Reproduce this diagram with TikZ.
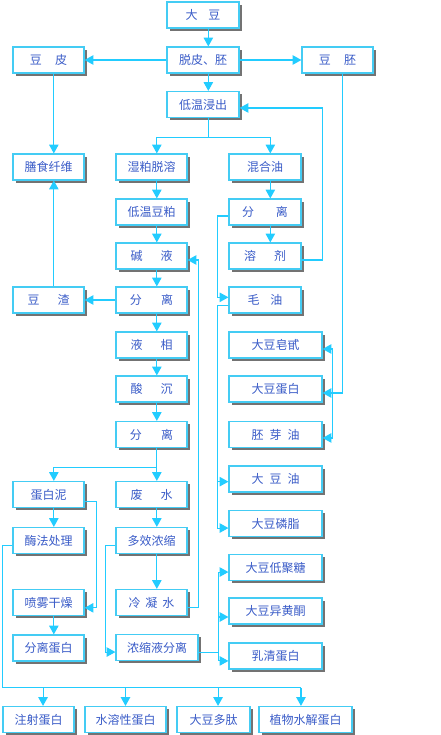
\documentclass[tikz,border=0pt]{standalone}
\usepackage{fontspec}
\usepackage{xcolor}
\usepackage{tikz}
\usetikzlibrary{arrows.meta,shadows}
\newfontfamily\cjk{Noto Sans CJK SC}
\definecolor{linecyan}{HTML}{22CCFF}
\definecolor{boxcyan}{HTML}{44CCF4}
\definecolor{txtblue}{HTML}{3A5CC8}

\begin{document}
\begin{tikzpicture}[x=0.75pt,y=-0.75pt,>={Triangle[length=6.5pt,width=7pt]},
  box/.style={draw=boxcyan,line width=0.9pt,fill=white,text=txtblue,inner sep=0pt,
    minimum width=53.25pt,minimum height=19.5pt,font=\cjk\fontsize{9}{11}\selectfont,
    drop shadow={shadow xshift=2.2pt,shadow yshift=-2.2pt,fill=black!55,opacity=1}},
  wbox/.style={box,minimum width=69.75pt},
  link/.style={draw=linecyan,line width=0.8pt}]
  \useasboundingbox[fill=white] (0,0) rectangle (440,735);
  % top row
  \node[box,minimum width=54pt] (dadou) at (203,15) {大\hspace{0.9em}豆};
  \node[box,minimum width=54pt] (tuopi) at (203,60) {脱皮、胚};
  \node[box] (doupi) at (48.5,60) {豆\hspace{1.1em}皮};
  \node[box] (doupei) at (337.5,60) {豆\hspace{1.1em}胚};
  \node[box,minimum width=54pt] (jinchu) at (203,104.5) {低温浸出};
  % left and middle columns
  \node[box] (shanshi) at (48.5,167) {膳食纤维};
  \node[box] (shipo) at (151.5,167) {湿粕脱溶};
  \node[box] (doupo) at (151.5,212) {低温豆粕};
  \node[box] (jianye) at (151.5,256) {碱\hspace{1.5em}液};
  \node[box] (douzha) at (48.5,300) {豆\hspace{1.5em}渣};
  \node[box] (fenliB) at (151.5,300) {分\hspace{1.6em}离};
  \node[box] (yexiang) at (151.5,345) {液\hspace{1.5em}相};
  \node[box] (suanchen) at (151.5,389) {酸\hspace{1.5em}沉};
  \node[box] (fenliD) at (151.5,434.5) {分\hspace{1.6em}离};
  \node[box] (danbaini) at (48.5,494.5) {蛋白泥};
  \node[box] (feishui) at (151.5,494.5) {废\hspace{1.5em}水};
  \node[box] (meifa) at (48.5,540.5) {酶法处理};
  \node[box] (duoxiao) at (151.5,540.5) {多效浓缩};
  \node[box] (penwu) at (48.5,602.5) {喷雾干燥};
  \node[box] (lengning) at (151.5,602.5) {冷\hspace{0.4em}凝\hspace{0.4em}水};
  \node[box] (fenlidb) at (48.5,648) {分离蛋白};
  \node[box,minimum width=61.5pt] (nongsuo) at (157,647.5) {浓缩液分离};
  % right column
  \node[box,minimum width=54pt] (hunhe) at (265,167) {混合油};
  \node[box,minimum width=54pt] (fenliC) at (265,212) {分\hspace{1.8em}离};
  \node[box,minimum width=54pt] (rongji) at (265,256) {溶\hspace{1.5em}剂};
  \node[box,minimum width=54pt] (maoyou) at (265,300) {毛\hspace{0.9em}油};
  \node[wbox] (zaogan) at (275.5,345) {大豆皂甙};
  \node[wbox] (danbai) at (275.5,389) {大豆蛋白};
  \node[wbox] (peiya) at (275.5,434.5) {胚\hspace{0.5em}芽\hspace{0.5em}油};
  \node[wbox] (dadouyou) at (275.5,479) {大\hspace{0.5em}豆\hspace{0.5em}油};
  \node[wbox] (linzhi) at (275.5,523.5) {大豆磷脂};
  \node[wbox] (juliao) at (275.5,567.5) {大豆低聚糖};
  \node[wbox] (yihuang) at (275.5,611) {大豆异黄酮};
  \node[wbox] (ruqing) at (275.5,656) {乳清蛋白};
  % bottom row
  \node[box] (zhushe) at (38.5,719.5) {注射蛋白};
  \node[box,minimum width=60.75pt] (shuirong) at (125.5,719.5) {水溶性蛋白};
  \node[box,minimum width=54.75pt] (duotai) at (213.5,719.5) {大豆多肽};
  \node[wbox] (zhiwu) at (305.5,719.5) {植物水解蛋白};

  % straight connectors
  \foreach \a/\b in {dadou/tuopi,tuopi/jinchu,doupi/shanshi,shipo/doupo,doupo/jianye,
      jianye/fenliB,fenliB/yexiang,yexiang/suanchen,suanchen/fenliD,hunhe/fenliC,
      fenliC/rongji,danbaini/meifa,penwu/fenlidb,feishui/duoxiao,duoxiao/lengning}
    \draw[link,->] ([xshift=4pt]\a.south) -- ([xshift=4pt]\b.north);
  \draw[link,->] ([xshift=4pt]douzha.north) -- ([xshift=4pt]shanshi.south);
  \draw[link,->] (tuopi.west) -- (doupi.east);
  \draw[link,->] (tuopi.east) -- (doupei.west);
  \draw[link,->] (fenliB.west) -- (douzha.east);
  % branches
  \draw[link,->] ([xshift=4pt]jinchu.south) -- ++(0,19) -| ([xshift=4pt]shipo.north);
  \draw[link,->] ([xshift=4pt]jinchu.south) -- ++(0,19) -| ([xshift=4pt]hunhe.north);
  \draw[link,->] ([xshift=4pt]fenliD.south) -- ++(0,19) -| ([xshift=4pt]danbaini.north);
  \draw[link,->] ([xshift=4pt]fenliD.south) -- ++(0,19) -| ([xshift=4pt]feishui.north);
  % returns and side lines
  \draw[link,->] ([yshift=-3pt]rongji.east) -- ++(21,0) |- ([yshift=-2.6pt]jinchu.east);
  \draw[link,->] ([xshift=4pt]doupei.south) |- ([yshift=-3pt]danbai.east);
  \draw[link,<->] ([yshift=-3pt]zaogan.east) -- ++(10,0) |- ([yshift=-2.6pt]peiya.east);
  \draw[link,->] ([yshift=-3pt]fenliC.west) -- ++(-11,0) |- ([yshift=2pt]maoyou.west);
  \draw[link,->] ([yshift=-4pt]maoyou.west) -- ++(-11,0) |- ([yshift=-2pt]dadouyou.west);
  \draw[link,->] ([yshift=-4pt]maoyou.west) -- ++(-11,0) |- ([yshift=-3.4pt]linzhi.west);
  \draw[link,->] ([yshift=-5pt]danbaini.east) -- ++(12,0) |- ([yshift=-4pt]penwu.east);
  \draw[link,->] ([yshift=-3.4pt]lengning.east) -- ++(11,0) |- ([yshift=-3pt]jianye.east);
  \draw[link,->] ([yshift=-3.4pt]duoxiao.west) -- ++(-10,0) |- ([yshift=-3.4pt]nongsuo.west);
  \draw[link] ([yshift=-3.4pt]nongsuo.east) -- ++(20,0) coordinate (nfork);
  \draw[link,->] (nfork) |- ([yshift=-3.4pt]juliao.west);
  \draw[link,->] (nfork) |- ([yshift=-4.5pt]yihuang.west);
  \draw[link,->] (nfork) |- ([yshift=-3.7pt]ruqing.west);
  % products bus
  \draw[link] ([yshift=-3.4pt]meifa.west) -- ++(-10,0) |- ([xshift=-3.4pt,yshift=13.5pt]zhiwu.north);
  \foreach \n/\s in {zhushe/3.4pt,shuirong/0pt,duotai/3.4pt,zhiwu/-3.4pt}
    \draw[link,->] ([xshift=\s,yshift=13.5pt]\n.north) -- ([xshift=\s]\n.north);
\end{tikzpicture}
\end{document}
